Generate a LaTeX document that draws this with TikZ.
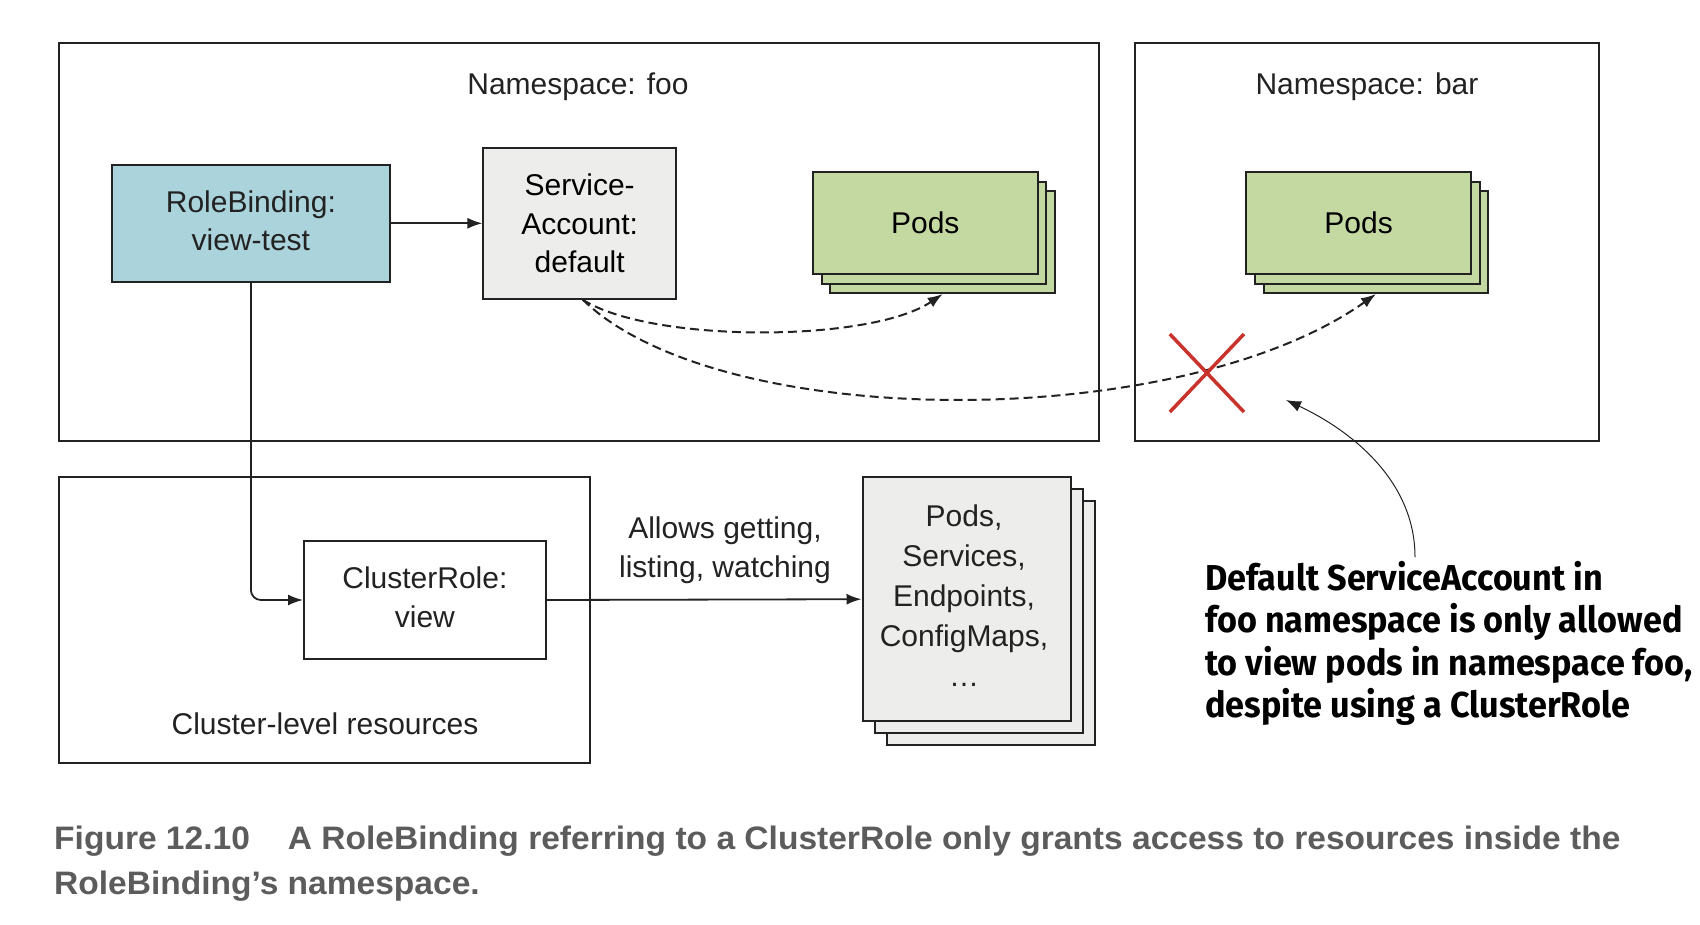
\documentclass[tikz,border=0pt]{standalone}
\usepackage{fontspec}
\setmainfont{Liberation Sans}
\newfontfamily\calloutfont[FakeStretch=0.95]{Fira Sans}
\newfontfamily\capfont[FakeStretch=1.032]{Liberation Sans}
\usetikzlibrary{arrows.meta,calc}
\definecolor{rbblue}{HTML}{ABD3DC}
\definecolor{sagray}{HTML}{EDEDEB}
\definecolor{podgreen}{HTML}{C3D9A1}
\definecolor{xred}{HTML}{C8342C}
\definecolor{capgray}{HTML}{5C5C5C}
\definecolor{linec}{HTML}{222222}
\tikzset{
  container/.style={draw=linec, line width=2pt, inner sep=0pt},
  box/.style={draw=linec, line width=2pt, inner sep=0pt, align=center, font=\fontsize{30}{38.5}\selectfont},
  txt/.style={inner sep=0pt, align=center, font=\fontsize{30}{38.5}\selectfont, text=linec},
  arr/.style={-{Latex[length=15pt,width=11pt]}, line width=1.8pt, draw=linec},
  dasharr/.style={-{Latex[length=15pt,width=11pt]}, line width=2pt, draw=linec, dash pattern=on 9pt off 5pt},
  thinarr/.style={-{Latex[length=15pt,width=11pt]}, line width=1pt, draw=linec},
  podbox/.style={box, fill=podgreen, minimum width=224.5, minimum height=102},
  resbox/.style={box, fill=sagray, minimum width=208, minimum height=244.3},
}
\begin{document}
\begin{tikzpicture}[x=1pt,y=-1pt]
\useasboundingbox (0,0) rectangle (1700,924);
% containers
\node[container, minimum width=1040.3, minimum height=397.7] (foo) at (578.65,242.15) {};
\node[container, minimum width=464, minimum height=397.7] (bar) at (1367,242.15) {};
\node[container, minimum width=531.2, minimum height=285.7] (cluster) at (324.1,619.85) {};
\node[txt] (foolbl) at (578,87) {Namespace: foo};
\node[txt] (barlbl) at (1367,87) {Namespace: bar};
\node[txt] (clbl) at (325,724) {Cluster-level resources};
% foo namespace
\node[box, fill=rbblue, minimum width=278, minimum height=117] (rb) at (250.9,223.3) {};
\node[txt] (rblbl) at (250.9,221) {RoleBinding:\\view-test};
\node[box, fill=sagray, minimum width=192.5, minimum height=150.7] (sa) at (579.7,223.3) {Service-\\Account:\\default};
\node[podbox] (fpod3) at (942.65,242) {};
\node[podbox] (fpod2) at (933.95,232.5) {};
\node[podbox] (fpod1) at (925.25,223) {Pods};
% bar namespace
\node[podbox] (bpod3) at (1376,242) {};
\node[podbox] (bpod2) at (1367.3,232.5) {};
\node[podbox] (bpod1) at (1358.6,223) {Pods};
% cluster
\node[box, fill=white, minimum width=241.8, minimum height=117.4] (cr) at (424.9,600) {};
\node[txt] (crlbl) at (424.9,597.5) {ClusterRole:\\view};
\node[resbox] (res3) at (990.5,623.2) {};
\node[resbox] (res2) at (978.5,611.2) {};
\node[resbox] (res1) at (966.5,599.2) {};
\node[txt, font=\fontsize{30}{40}\selectfont] (reslbl) at (964,596) {Pods,\\Services,\\Endpoints,\\ConfigMaps,\\…};
\node[txt] (allow) at (725,550) {Allows getting,\\listing, watching};
% connectors
\draw[arr] (rb.east) -- (sa.west);
\draw[arr, rounded corners=10pt] (rb.south) |- (cr.west);
\draw[arr] (cr.east) -- (res1.west);
\draw[dasharr] ($(sa.south)+(3,0)$) .. controls (650,343) and (870,343) .. (fpod3.south);
\draw[dasharr] ($(sa.south)+(3,0)$) .. controls (720,433) and (1180,433) .. (bpod3.south);
% red X
\coordinate (xa) at (1169.8,334);
\coordinate (xb) at (1244,412);
\coordinate (xc) at (1244,334);
\coordinate (xd) at (1169.8,412);
\draw[xred, line width=3.5pt] (xa) -- (xb);
\draw[xred, line width=3.5pt] (xc) -- (xd);
% callout
\node[inner sep=0pt, anchor=north west, align=left, text=black, font=\calloutfont\bfseries\fontsize{36}{42.3}\selectfont] (callout) at (1205,561) {Default ServiceAccount in\\foo namespace is only allowed\\to view pods in namespace foo,\\despite using a ClusterRole};
\coordinate (cstart) at (1415,557);
\coordinate (ctip) at (1286,400);
\draw[thinarr] (cstart) .. controls (1415,480) and (1350,430) .. (ctip);
% caption
\node[inner sep=0pt, anchor=north west, align=left, text=capgray, font=\capfont\bfseries\fontsize{32.5}{45}\selectfont] (caption) at (54,826) {Figure 12.10\hspace{38pt}A RoleBinding referring to a ClusterRole only grants access to resources inside the\\RoleBinding’s namespace.};
\end{tikzpicture}
\end{document}
